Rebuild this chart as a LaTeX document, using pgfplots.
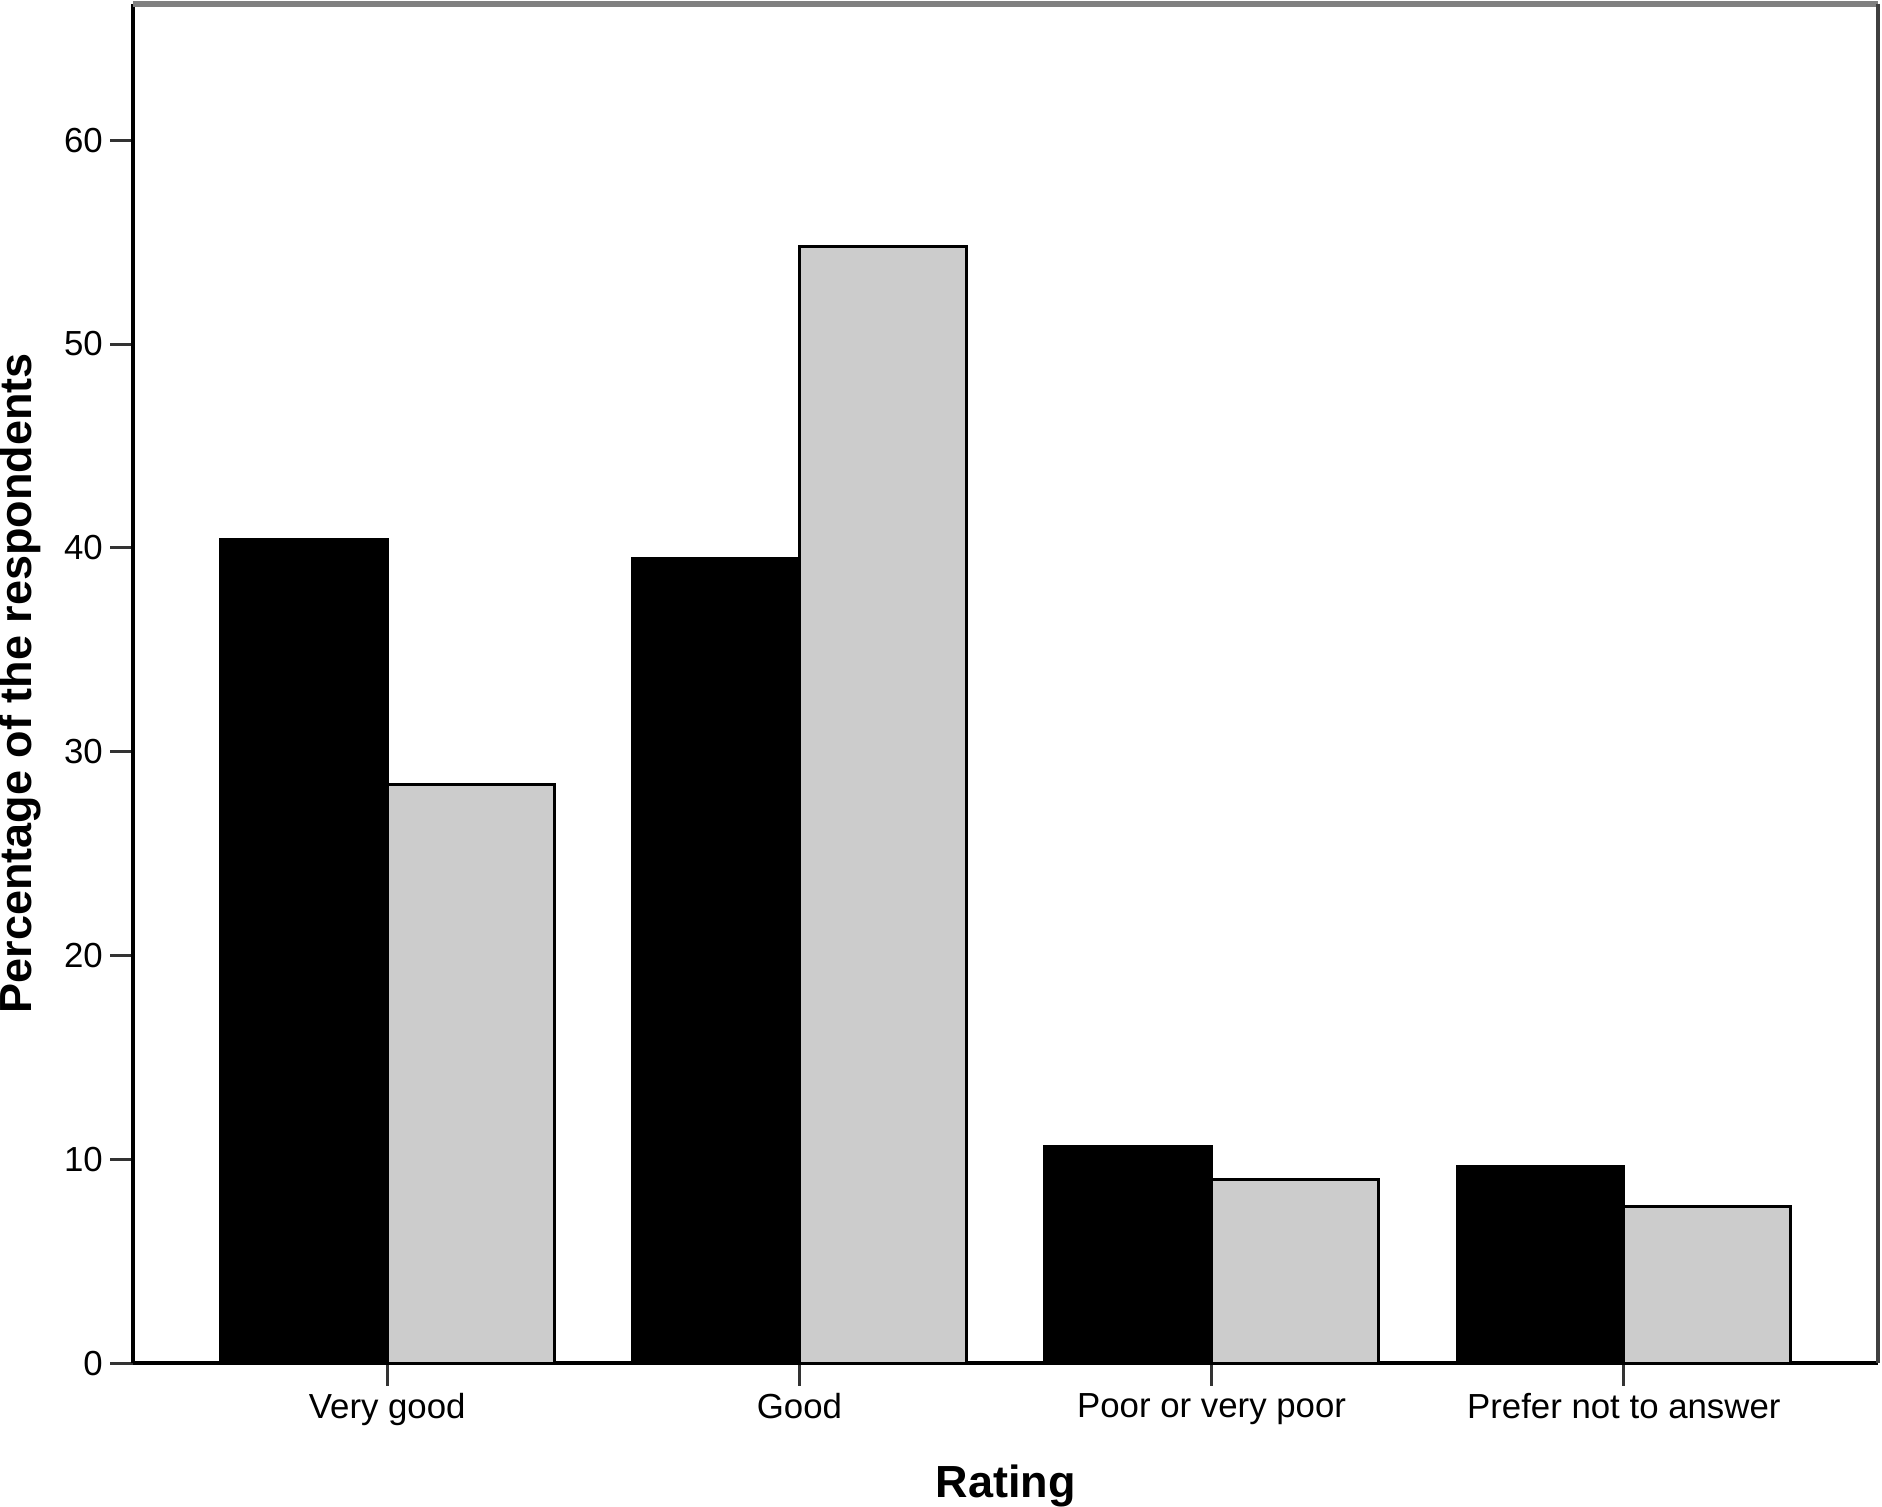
\documentclass[border=0pt]{standalone}
\usepackage{pgfplots}
\pgfplotsset{compat=1.18}
\usepackage{fontspec}
\setmainfont{Liberation Sans}
\definecolor{barblack}{HTML}{000000}
\definecolor{bargrey}{HTML}{CCCCCC}
\begin{document}
\begin{tikzpicture}
\begin{axis}[
    scale only axis,
    width=581.7pt, height=453.2pt,
    xmin=-0.617, xmax=3.617,
    ymin=0, ymax=66.7,
    axis x line*=bottom,
    axis y line*=left,
    axis line style={line width=1.2pt, black, -},
    xtick={0,1,2,3},
    xticklabels={Very good, Good, Poor or very poor, Prefer not to answer},
    ytick={0,10,20,30,40,50,60},
    tick align=outside,
    major tick length=7.5pt,
    tick style={line width=1pt, black!80},
    ticklabel style={font=\fontsize{11.6}{14}\selectfont},
    /pgf/number format/assume math mode=true,
    yticklabel style={xshift=1pt},
    xticklabel style={yshift=1pt},
    xlabel={Rating},
    ylabel={Percentage of the respondents},
    label style={font=\bfseries\fontsize{15}{18}\selectfont},
    xlabel style={at={(axis description cs:0.5,-0.0905)}, anchor=center},
    ylabel style={at={(axis description cs:-0.0645,0.5)}, anchor=center},
    clip=false,
]
% black series
\addplot[ybar, bar width=0.405, bar shift=0pt, fill=barblack, draw=black, line width=0.9pt]
    coordinates {(-0.2025,40.4) (0.7975,39.5) (1.7975,10.66) (2.7975,9.66)};
% grey series
\addplot[ybar, bar width=0.405, bar shift=0pt, fill=bargrey, draw=black, line width=0.9pt]
    coordinates {(0.2025,28.4) (1.2025,54.8) (2.2025,9.0) (3.2025,7.7)};
\draw[line width=2pt, gray] (rel axis cs:0,1) -- (rel axis cs:1,1);
\draw[line width=1.3pt, black!75] (rel axis cs:1,1) -- (rel axis cs:1,0);
\end{axis}
\pgfresetboundingbox
\path[use as bounding box]
    ([xshift=-44.3pt, yshift=-47.7pt]current axis.south west)
    rectangle ([xshift=1.3pt, yshift=1.2pt]current axis.north east);
\end{tikzpicture}
\end{document}
